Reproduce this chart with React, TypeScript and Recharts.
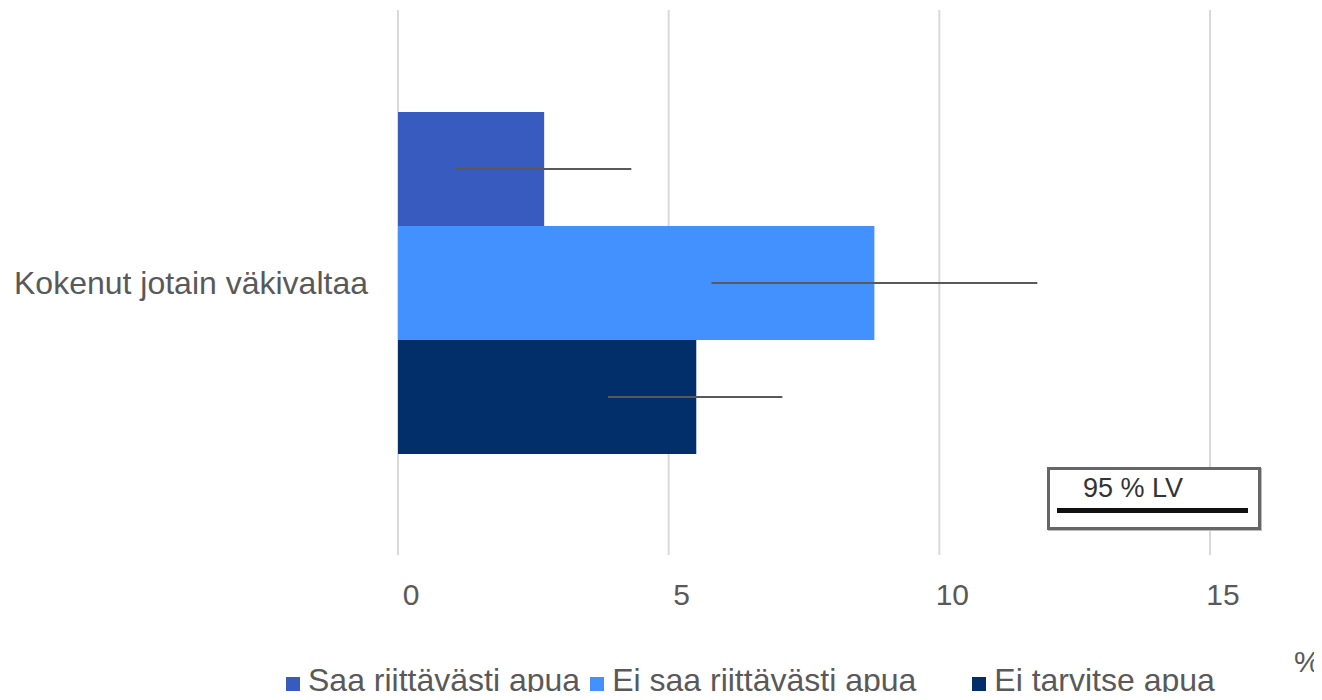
import { BarChart, Bar, XAxis, YAxis, CartesianGrid, Legend, ErrorBar } from "recharts";

const categories = ["Kokenut jotain väkivaltaa"];
const seriesNames = ["Saa riittävästi apua", "Ei saa riittävästi apua", "Ei tarvitse apua"];
const seriesColors = ["#385bbf", "#4391ff", "#022f69"];
const saaValues = [2.7];
const saaLow = [1.07];
const saaHigh = [4.31];
const eiSaaValues = [8.8];
const eiSaaLow = [5.79];
const eiSaaHigh = [11.81];
const eiTarvitseValues = [5.51];
const eiTarvitseLow = [3.88];
const eiTarvitseHigh = [7.1];
const xTicks = [0, 5, 10, 15];

const data = categories.map((name, i) => ({
  name,
  s0: saaValues[i],
  e0: [saaValues[i] - saaLow[i], saaHigh[i] - saaValues[i]],
  s1: eiSaaValues[i],
  e1: [eiSaaValues[i] - eiSaaLow[i], eiSaaHigh[i] - eiSaaValues[i]],
  s2: eiTarvitseValues[i],
  e2: [eiTarvitseValues[i] - eiTarvitseLow[i], eiTarvitseHigh[i] - eiTarvitseValues[i]],
}));

const textColor = "#595959";
const font = "'Liberation Sans', Arial, sans-serif";
const legendGaps = [10, 56, 0];

const LegendContent = () => (
  <div
    style={{
      display: "flex",
      alignItems: "center",
      height: 30,
      lineHeight: "30px",
      fontFamily: font,
      fontSize: 32,
      color: textColor,
    }}
  >
    {seriesNames.map((n, i) => (
      <div key={n} style={{ display: "flex", alignItems: "center", marginRight: legendGaps[i] }}>
        <span
          style={{
            width: 14,
            height: 14,
            background: seriesColors[i],
            marginRight: 8,
            display: "inline-block",
            position: "relative",
            top: 4,
          }}
        />
        <span>{n}</span>
      </div>
    ))}
  </div>
);

export default function App() {
  return (
    <div style={{ position: "relative", width: 1322, height: 700, margin: -8, fontFamily: font }}>
      <BarChart
        width={1322}
        height={700}
        data={data}
        layout="vertical"
        barCategoryGap="18.7%"
        barGap={0}
        margin={{ top: 10, right: 112, bottom: 0, left: 0 }}
      >
        <CartesianGrid horizontal={false} stroke="#d9d9d9" strokeWidth={2} />
        <XAxis
          type="number"
          domain={[0, 15]}
          ticks={xTicks}
          axisLine={false}
          tickLine={false}
          tickMargin={23}
          height={115}
          tick={{ fontSize: 30, fill: textColor, fontFamily: font, dx: 13 }}
        />
        <YAxis
          type="category"
          dataKey="name"
          width={398}
          axisLine={false}
          tickLine={false}
          tickMargin={24}
          tick={{ fontSize: 32, fill: textColor, fontFamily: font }}
        />
        <Legend content={<LegendContent />} wrapperStyle={{ left: 286, top: 665, width: "auto" }} />
        {[0, 1, 2].map((i) => (
          <Bar key={i} dataKey={`s${i}`} name={seriesNames[i]} fill={seriesColors[i]} isAnimationActive={false}>
            <ErrorBar dataKey={`e${i}`} direction="x" width={0} stroke="#595959" strokeWidth={2} />
          </Bar>
        ))}
      </BarChart>
      <div style={{ position: "absolute", left: 1294, top: 647, fontSize: 30, lineHeight: 1, color: textColor }}>
        %
      </div>
      <div
        style={{
          position: "absolute",
          left: 1047,
          top: 467,
          width: 214,
          height: 63,
          boxSizing: "border-box",
          border: "3px solid #666",
          boxShadow: "1px 1px 0 #bbb",
          background: "#fff",
          fontFamily: font,
        }}
      >
        <div style={{ position: "absolute", left: 33, top: 5, fontSize: 27, lineHeight: 1, color: "#333" }}>
          95 % LV
        </div>
        <div style={{ position: "absolute", left: 7, width: 191, top: 38, height: 5, background: "#111" }} />
      </div>
    </div>
  );
}
